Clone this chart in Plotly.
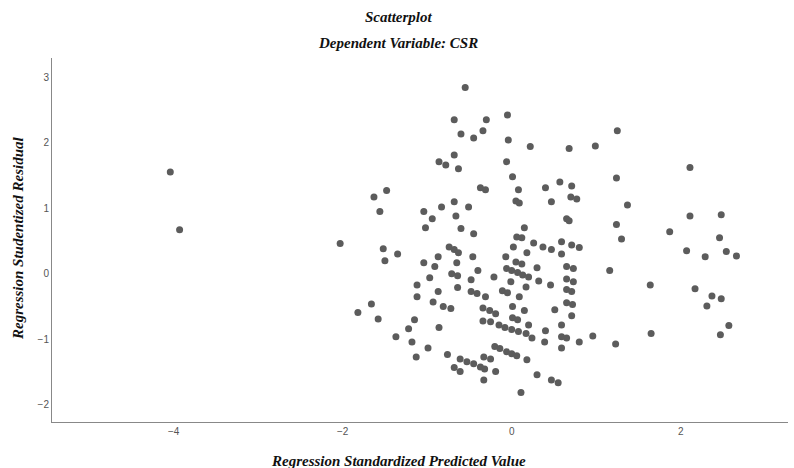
import plotly.graph_objects as go

# Regression Standardized Predicted Value
pred = [-4.04, -3.93, -2.03, -1.82, -1.66, -1.58, -1.37, -1.22, -1.48, -1.63,
        -1.56, -1.52, -1.35, -1.50, -1.18, -1.13, -0.55, -0.68, -0.30, -0.05,
        -0.60, -0.45, -0.34, -0.04, 0.22, -0.68, -0.86, -0.78, -0.63, -0.06,
        0.01, -0.37, -0.31, 0.08, 0.05, 0.09, -0.83, -0.68, -0.51, -1.04,
        -0.94, -0.66, -1.02, -0.60, -0.45, 0.15, 0.06, 0.12, 0.26, -0.74,
        -0.68, -0.63, 0.02, -0.87, -0.46, -1.04, -0.91, -0.65, -0.71, -0.64,
        -0.40, -0.97, -0.48, -0.21, -1.12, -0.64, -0.87, -0.48, -0.41, -0.31,
        -1.12, -0.93, -0.81, -0.72, -1.15, -0.86, -0.99, -0.76, -0.61, -0.53,
        -0.45, -0.37, -0.32, -0.68, -0.61, -0.33, -0.25, -0.19, -0.33, 0.11,
        -0.34, -0.26, -0.19, -0.34, -0.25, -0.15, -0.08, 0.00, 0.08, 0.17,
        0.24, -0.20, -0.14, -0.06, 0.00, 0.06, 0.18, 0.30, 0.01, 0.15,
        0.01, 0.07, 0.20, -0.11, -0.05, 0.09, -0.06, 0.00, 0.07, 0.13,
        0.20, -0.01, 0.17, 0.18, 0.05, 0.12, -0.07, 0.30, 0.32, 0.68,
        0.99, 1.25, 2.11, 1.24, 0.57, 0.40, 0.71, 0.47, 0.70, 0.77,
        1.37, 0.65, 0.68, 2.11, 2.48, 1.24, 1.30, 1.87, 2.46, 0.37,
        0.47, 0.59, 0.59, 0.71, 0.80, 2.07, 2.29, 2.54, 2.66, 0.65,
        0.73, 1.16, 0.46, 0.65, 0.73, 0.65, 0.71, 1.64, 2.17, 2.37,
        2.48, 2.31, 0.51, 0.65, 0.72, 0.71, 2.57, 2.47, 1.65, 0.40,
        0.59, 0.39, 0.59, 0.65, 0.80, 0.96, 1.23, 0.59, 0.47, 0.55]

# Regression Studentized Residual
resid = [1.55, 0.67, 0.46, -0.59, -0.46, -0.69, -0.96, -0.84, 1.27, 1.17,
         0.95, 0.38, 0.30, 0.20, -1.04, -1.27, 2.84, 2.35, 2.35, 2.42,
         2.13, 2.07, 2.18, 2.04, 1.94, 1.81, 1.71, 1.66, 1.60, 1.71,
         1.48, 1.31, 1.28, 1.28, 1.11, 1.08, 1.02, 1.10, 1.02, 0.95,
         0.84, 0.88, 0.70, 0.69, 0.61, 0.70, 0.56, 0.55, 0.47, 0.41,
         0.37, 0.32, 0.41, 0.26, 0.26, 0.17, 0.11, 0.17, 0.00, -0.03,
         0.05, -0.06, -0.09, -0.05, -0.17, -0.21, -0.27, -0.27, -0.30, -0.35,
         -0.35, -0.43, -0.50, -0.53, -0.70, -0.82, -1.13, -1.23, -1.30, -1.34,
         -1.37, -1.42, -1.45, -1.43, -1.49, -1.27, -1.30, -1.49, -1.62, -1.81,
         -0.52, -0.56, -0.61, -0.72, -0.73, -0.78, -0.82, -0.85, -0.88, -0.91,
         -0.98, -1.11, -1.14, -1.19, -1.22, -1.25, -1.31, -1.54, -0.50, -0.56,
         -0.67, -0.70, -0.78, -0.26, -0.29, -0.35, 0.08, 0.05, 0.02, -0.02,
         -0.05, -0.12, -0.20, 0.32, 0.18, 0.15, 0.26, 0.09, -0.11, 1.91,
         1.95, 2.18, 1.62, 1.46, 1.40, 1.31, 1.34, 1.10, 1.17, 1.14,
         1.05, 0.84, 0.81, 0.88, 0.90, 0.75, 0.53, 0.64, 0.55, 0.41,
         0.37, 0.49, 0.30, 0.44, 0.40, 0.35, 0.26, 0.34, 0.27, 0.11,
         0.08, 0.05, -0.17, -0.08, -0.12, -0.24, -0.27, -0.17, -0.23, -0.34,
         -0.38, -0.49, -0.55, -0.44, -0.47, -0.64, -0.79, -0.93, -0.91, -0.87,
         -0.78, -1.04, -0.96, -0.98, -1.04, -0.95, -1.07, -1.13, -1.62, -1.66]

x_ticks = [-4, -2, 0, 2]
y_ticks = [-2, -1, 0, 1, 2, 3]

serif = "Liberation Serif, Times New Roman, serif"
sans = "Liberation Sans, Arial, sans-serif"

L, R, T, B = 52, 6, 58, 46
W, H = 794, 468
pw = W - L - R
ph = H - T - B


def px_x(p):
    return (p - L) / pw


def px_y(p):
    return (H - B - p) / ph


fig = go.Figure()
fig.add_trace(go.Scatter(
    x=pred, y=resid, mode="markers",
    marker=dict(size=7, color="#5c5c5c", line=dict(width=0)),
    showlegend=False, hoverinfo="skip"))

fig.update_layout(
    template="none",
    width=W, height=H,
    margin=dict(l=L, r=R, t=T, b=B, autoexpand=False),
    paper_bgcolor="white", plot_bgcolor="white",
    showlegend=False,
)

title_font = dict(family=serif, size=15, color="#111")
fig.add_annotation(text="<b><i>Scatterplot</i></b>", x=px_x(398), y=px_y(17),
                   xref="paper", yref="paper", showarrow=False,
                   xanchor="center", yanchor="middle", font=title_font)
fig.add_annotation(text="<b><i>Dependent Variable: CSR</i></b>", x=px_x(398), y=px_y(43),
                   xref="paper", yref="paper", showarrow=False,
                   xanchor="center", yanchor="middle", font=title_font)
fig.add_annotation(text="<b><i>Regression Standardized Predicted Value</i></b>",
                   x=px_x(398), y=px_y(461), xref="paper", yref="paper", showarrow=False,
                   xanchor="center", yanchor="middle", font=title_font)
fig.add_annotation(text="<b><i>Regression Studentized Residual</i></b>",
                   x=px_x(18), y=px_y(238), xref="paper", yref="paper", showarrow=False,
                   xanchor="center", yanchor="middle",
                   textangle=-90, font=title_font)

fig.update_xaxes(range=[-5.44, 3.27], tickvals=x_ticks, showgrid=False, zeroline=False,
                 showline=True, linecolor="#888", linewidth=1, ticks="", automargin=False,
                 tickfont=dict(family=sans, size=10, color="#555"))
fig.update_yaxes(range=[-2.26, 3.29], tickvals=y_ticks, showgrid=False, zeroline=False,
                 showline=True, linecolor="#888", linewidth=1, ticks="", automargin=False,
                 tickfont=dict(family=sans, size=10, color="#555"))

fig.write_html("out.html",
               config={"displayModeBar": False, "staticPlot": True},
               post_script="document.body.style.margin='0';document.body.style.overflow='hidden';")
